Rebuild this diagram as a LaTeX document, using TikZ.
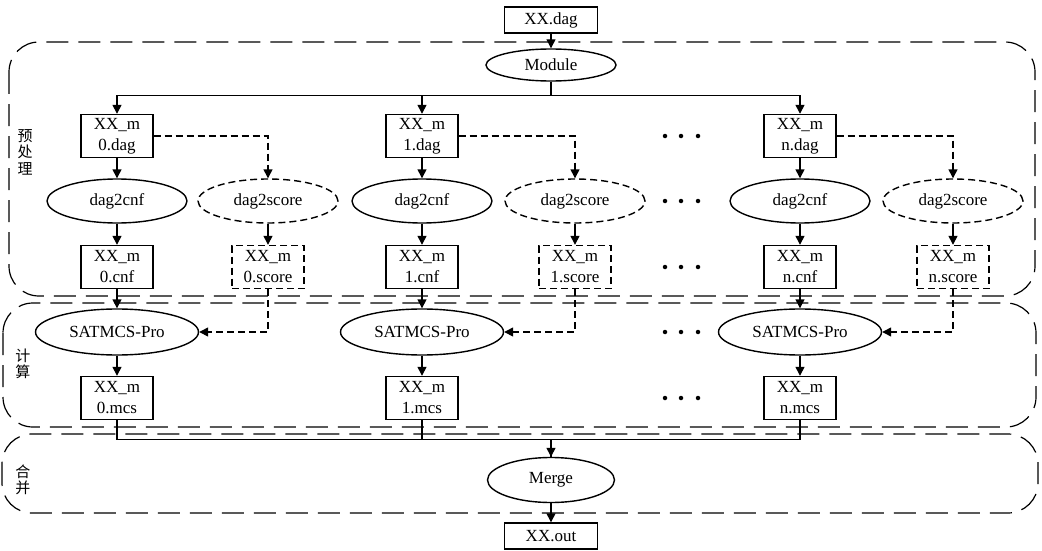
\documentclass[tikz,border=0pt]{standalone}
\usepackage{fontspec}
\setmainfont{Liberation Serif}
\newfontfamily\cjk{Noto Sans CJK SC}
\usetikzlibrary{arrows.meta,shapes.geometric}
\begin{document}
\begin{tikzpicture}[x=1pt,y=-1pt,
  font=\fontsize{17}{21}\selectfont,
  region/.style={draw,line width=1.2pt,dash pattern=on 22pt off 10pt,rounded corners=30pt},
  box/.style={draw,line width=1.4pt,minimum width=72pt,minimum height=43pt,inner sep=1pt,align=center},
  dbox/.style={box,dash pattern=on 7pt off 4pt},
  iobox/.style={draw,line width=1.4pt,minimum width=93pt,minimum height=26pt,inner sep=1pt},
  proc/.style={draw,ellipse,line width=1.4pt,inner sep=0pt},
  dproc/.style={proc,dash pattern=on 7pt off 4pt},
  line/.style={line width=1.4pt},
  arr/.style={line,-{Triangle[length=9pt,width=9pt]}},
  darr/.style={arr,dash pattern=on 7pt off 4pt},
  side/.style={font=\cjk\fontsize{15}{16.5}\selectfont,align=center,inner sep=0pt},
  dot/.style={circle,fill,inner sep=0pt,minimum size=4.5pt}
]
\useasboundingbox (0,0) rectangle (1042,551);

% regions
\draw[region] (9,42) rectangle (1035,296);
\draw[region] (3,303) rectangle (1036,427);
\draw[region] (2,434) rectangle (1038,513);

\node[side] (lab1) at (25,152) {预\\处\\理};
\node[side] (lab2) at (23,364) {计\\算};
\node[side] (lab3) at (23,480) {合\\并};

% top
\node[iobox] (in) at (551,20) {XX.dag};
\node[proc,minimum width=130pt,minimum height=32pt] (mod) at (551,65) {Module};
\node[iobox] (out) at (551,536) {XX.out};
\node[proc,minimum width=127pt,minimum height=45pt] (mg) at (551,480) {Merge};

% column 0
\node[box] (d0) at (117,136) {XX\_m\\0.dag};
\node[proc,minimum width=140pt,minimum height=44pt] (c0) at (117,201) {dag2cnf};
\node[dproc,minimum width=140pt,minimum height=44pt] (s0) at (268,201) {dag2score};
\node[box] (f0) at (117,267) {XX\_m\\0.cnf};
\node[dbox] (r0) at (268,267) {XX\_m\\0.score};
\node[proc,minimum width=163pt,minimum height=46pt] (p0) at (117,332) {SATMCS-Pro};
\node[box] (m0) at (117,398) {XX\_m\\0.mcs};

% column 1
\node[box] (d1) at (422,136) {XX\_m\\1.dag};
\node[proc,minimum width=140pt,minimum height=44pt] (c1) at (422,201) {dag2cnf};
\node[dproc,minimum width=140pt,minimum height=44pt] (s1) at (575,201) {dag2score};
\node[box] (f1) at (422,267) {XX\_m\\1.cnf};
\node[dbox] (r1) at (575,267) {XX\_m\\1.score};
\node[proc,minimum width=163pt,minimum height=46pt] (p1) at (422,332) {SATMCS-Pro};
\node[box] (m1) at (422,398) {XX\_m\\1.mcs};

% column n
\node[box] (dn) at (800,136) {XX\_m\\n.dag};
\node[proc,minimum width=140pt,minimum height=44pt] (cn) at (800,201) {dag2cnf};
\node[dproc,minimum width=140pt,minimum height=44pt] (sn) at (953,201) {dag2score};
\node[box] (fn) at (800,267) {XX\_m\\n.cnf};
\node[dbox] (rn) at (953,267) {XX\_m\\n.score};
\node[proc,minimum width=163pt,minimum height=46pt] (pn) at (800,332) {SATMCS-Pro};
\node[box] (mn) at (800,398) {XX\_m\\n.mcs};

% dots
\foreach \yy in {136,201,267,332,398} {
  \node[dot] at (665,\yy) {};
  \node[dot] at (681,\yy) {};
  \node[dot] at (698,\yy) {};
}

% connectors
\draw[arr] (in) -- (mod);
\draw[arr] (mod.south) -- ++(0,14) -| (d0.north);
\draw[arr] (mod.south) -- ++(0,14) -| (d1.north);
\draw[arr] (mod.south) -- ++(0,14) -| (dn.north);

\foreach \k in {0,1,n} {
  \draw[arr] (d\k) -- (c\k);
  \draw[darr] (d\k.east) -| (s\k.north);
  \draw[arr] (c\k) -- (f\k);
  \draw[arr] (s\k) -- (r\k);
  \draw[arr] (f\k) -- (p\k);
  \draw[darr] (r\k.south) |- (p\k.east);
  \draw[arr] (p\k) -- (m\k);
}

\draw[arr] (m0.south) -- ++(0,19) -| (mg.north);
\draw[line] (mn.south) -- ++(0,19) -| (mg.north);
\draw[line] (m1.south) -- ++(0,19);
\draw[arr] (mg) -- (out);
\end{tikzpicture}
\end{document}
